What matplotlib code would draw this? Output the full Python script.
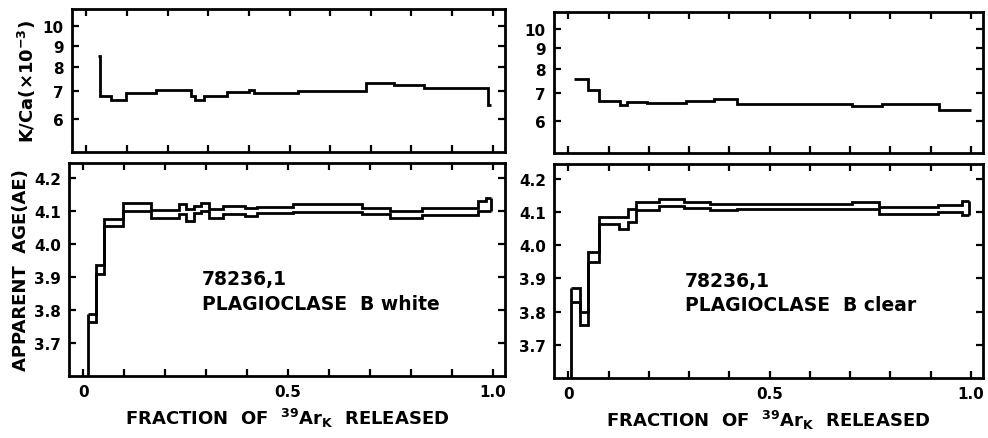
import numpy as np
import matplotlib
matplotlib.use('Agg')
import matplotlib.pyplot as plt
from matplotlib.ticker import FixedLocator, NullFormatter, MultipleLocator

plt.rcParams['font.family'] = ['DejaVu Sans']
plt.rcParams['font.weight'] = 'bold'
plt.rcParams['axes.labelweight'] = 'bold'
plt.rcParams['mathtext.default'] = 'bf'

# K/Ca step spectra (x 1e-3)
kca_w_edges = [0.029, 0.034, 0.061, 0.098, 0.172, 0.257, 0.268, 0.290, 0.345,
               0.400, 0.412, 0.520, 0.688, 0.756, 0.830, 0.988, 0.997]
kca_w_vals = [8.5, 6.82, 6.65, 6.91, 7.06, 6.82, 6.65, 6.82, 6.97, 7.05, 6.91,
              6.99, 7.32, 7.26, 7.14, 6.47]

kca_c_edges = [0.013, 0.050, 0.076, 0.128, 0.146, 0.195, 0.292, 0.361, 0.419,
               0.704, 0.778, 0.920, 1.0]
kca_c_vals = [7.58, 7.13, 6.71, 6.53, 6.65, 6.60, 6.68, 6.75, 6.59, 6.50, 6.57, 6.38]

# apparent age spectra (AE), lower / upper bounds of each step
age_w_edges = [0.011, 0.030, 0.051, 0.096, 0.166, 0.233, 0.250, 0.269, 0.287, 0.308,
               0.341, 0.396, 0.425, 0.513, 0.682, 0.750, 0.827, 0.964, 0.983, 0.997]
age_w_lo = [3.763, 3.91, 4.055, 4.10, 4.078, 4.09, 4.068, 4.093, 4.10, 4.08,
            4.09, 4.085, 4.093, 4.098, 4.09, 4.078, 4.088, 4.10, 4.10]
age_w_hi = [3.786, 3.935, 4.075, 4.123, 4.103, 4.12, 4.105, 4.115, 4.125, 4.105,
            4.115, 4.11, 4.113, 4.12, 4.11, 4.10, 4.108, 4.13, 4.14]

age_c_edges = [0.007, 0.030, 0.050, 0.075, 0.127, 0.148, 0.167, 0.224, 0.288,
               0.353, 0.418, 0.704, 0.771, 0.917, 0.978, 0.994]
age_c_lo = [3.83, 3.76, 3.95, 4.063, 4.05, 4.07, 4.105, 4.117, 4.112, 4.105,
            4.11, 4.108, 4.095, 4.10, 4.09]
age_c_hi = [3.87, 3.80, 3.98, 4.085, 4.085, 4.11, 4.13, 4.14, 4.132, 4.125,
            4.125, 4.13, 4.115, 4.12, 4.135]

labels = ['PLAGIOCLASE  B white', 'PLAGIOCLASE  B clear']
sample = '78236,1'

LW = 2.0
fig = plt.figure(figsize=(9.88, 4.39), dpi=100)


def style(ax):
    for s in ax.spines.values():
        s.set_linewidth(LW)
    ax.tick_params(direction='in', length=5, width=1.6, top=True, right=True,
                   labelsize=11, pad=6)
    ax.xaxis.set_major_locator(MultipleLocator(0.1))
    ax.set_xlim(-0.035, 1.03)


def kca_panel(rect, edges, vals, ylab):
    ax = fig.add_axes(rect)
    style(ax)
    ax.stairs(vals, edges, baseline=None, color='black', lw=LW)
    ax.set_yscale('log')
    ax.set_ylim(5.0, 11.0)
    ax.yaxis.set_major_locator(FixedLocator([6, 7, 8, 9, 10]))
    ax.yaxis.set_minor_locator(FixedLocator([]))
    ax.set_yticklabels(['6', '7', '8', '9', '10'])
    ax.xaxis.set_major_formatter(NullFormatter())
    if ylab:
        ax.set_ylabel(r'K/Ca($\times$10$^{-3}$)', fontsize=13, labelpad=3)
    return ax


def age_panel(rect, edges, lo, hi, text, ylab):
    ax = fig.add_axes(rect)
    style(ax)
    ymin = 3.6
    ax.stairs(hi, edges, baseline=None, color='black', lw=LW)
    ax.stairs(lo, edges, baseline=None, color='black', lw=LW)
    ax.vlines(edges[0], ymin, hi[0], color='black', lw=LW)
    ax.vlines(edges[-1], lo[-1], hi[-1], color='black', lw=LW)
    ax.set_ylim(ymin, 4.245)
    ax.set_yticks([3.7, 3.8, 3.9, 4.0, 4.1, 4.2])
    ax.set_yticklabels(['3.7', '3.8', '3.9', '4.0', '4.1', '4.2'])
    ax.set_xticks(np.arange(0, 1.01, 0.1))
    ax.set_xticklabels(['0', '', '', '', '', '0.5', '', '', '', '', '1.0'])
    ax.set_xlabel(r'FRACTION  OF  $^{39}$Ar$_{K}$  RELEASED', fontsize=13, labelpad=5)
    ax.text(0.29, 3.895, sample, fontsize=13.5, va='center', ha='left')
    ax.text(0.29, 3.82, text, fontsize=13.5, va='center', ha='left')
    if ylab:
        ax.set_ylabel('APPARENT  AGE(AE)', fontsize=13, labelpad=3)
    return ax


kca_panel([0.073, 0.651, 0.438, 0.326], kca_w_edges, kca_w_vals, True)
kca_panel([0.561, 0.649, 0.434, 0.321], kca_c_edges, kca_c_vals, False)
age_panel([0.070, 0.142, 0.441, 0.484], age_w_edges, age_w_lo, age_w_hi, labels[0], True)
age_panel([0.561, 0.137, 0.434, 0.487], age_c_edges, age_c_lo, age_c_hi, labels[1], False)

fig.savefig('out.png', dpi=100)
